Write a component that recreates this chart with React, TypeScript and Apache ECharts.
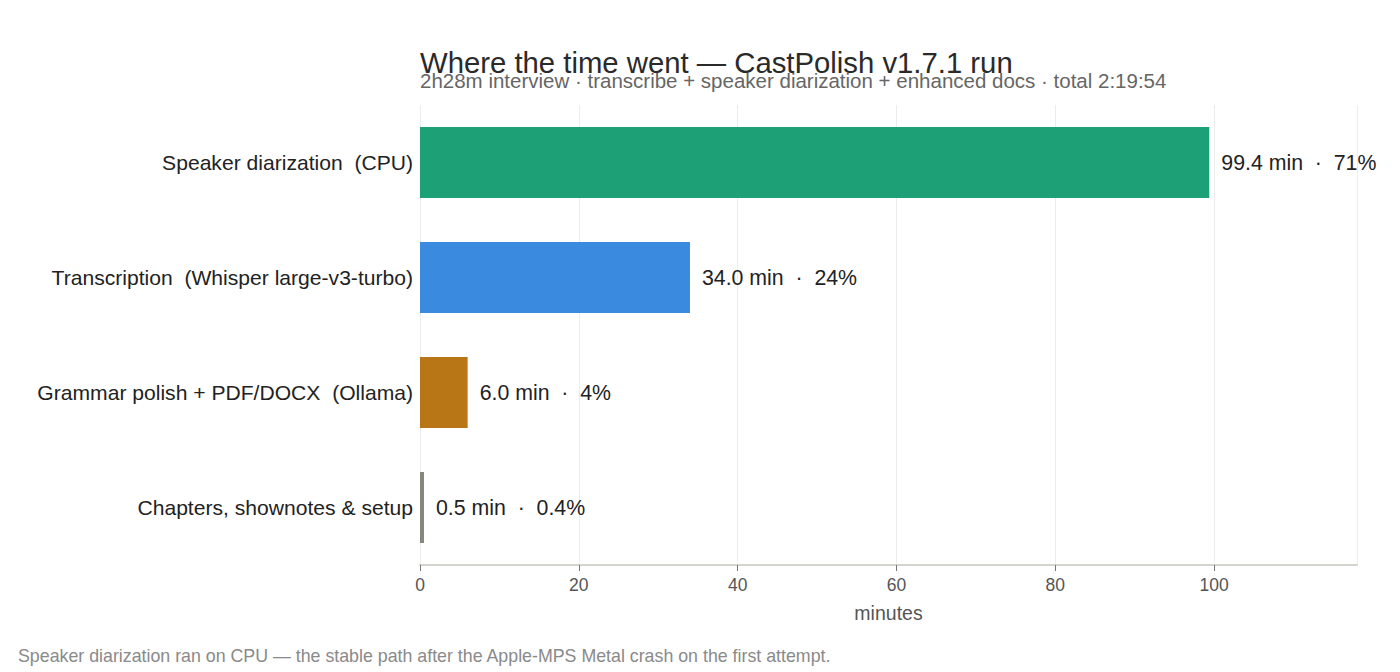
import React, { useEffect, useRef } from "react";
import * as echarts from "echarts";

const categories = [
  "Speaker diarization  (CPU)",
  "Transcription  (Whisper large-v3-turbo)",
  "Grammar polish + PDF/DOCX  (Ollama)",
  "Chapters, shownotes & setup",
];
const minutesValues = [99.4, 34.0, 6.0, 0.5];
const shareLabels = ["71%", "24%", "4%", "0.4%"];
const barColors = ["#1ea076", "#3a8bdf", "#b97617", "#86867e"];
const xTicks = [0, 20, 40, 60, 80, 100];

const TITLE = "Where the time went — CastPolish v1.7.1 run";
const SUBTITLE =
  "2h28m interview · transcribe + speaker diarization + enhanced docs · total 2:19:54";
const FOOTNOTE =
  "Speaker diarization ran on CPU — the stable path after the Apple-MPS Metal crash on the first attempt.";

const SANS = "'Liberation Sans', Arial, Helvetica, sans-serif";

export default function App() {
  const ref = useRef<HTMLDivElement>(null);
  useEffect(() => {
    if (!ref.current) return;
    const chart = echarts.init(ref.current, undefined, { renderer: "svg" });
    chart.setOption({
      animation: false,
      backgroundColor: "#ffffff",
      title: [
        {
          text: TITLE,
          left: 415,
          top: 43,
          padding: 5,
          textStyle: { fontFamily: SANS, fontSize: 29.3, fontWeight: "normal", color: "#2a2a2a" },
        },
        {
          text: SUBTITLE,
          left: 415,
          top: 65,
          padding: 5,
          textStyle: { fontFamily: SANS, fontSize: 20.5, fontWeight: "normal", color: "#666666" },
        },
      ],
      graphic: [
        {
          type: "text",
          left: 18,
          top: 647,
          style: { text: FOOTNOTE, font: `17.8px ${SANS}`, fill: "#8a8a8a" },
        },
      ],
      grid: { left: 420, right: 43, top: 105, bottom: 107, containLabel: false },
      xAxis: {
        type: "value",
        min: 0,
        max: 118,
        interval: 20,
        name: "minutes",
        nameLocation: "middle",
        nameGap: 38,
        nameTextStyle: { fontFamily: SANS, fontSize: 19.5, color: "#555555" },
        axisLine: { show: true, lineStyle: { color: "#d4d4ce", width: 2 } },
        axisTick: { show: true, length: 6, lineStyle: { color: "#777777" } },
        axisLabel: {
          fontFamily: SANS,
          fontSize: 17.5,
          color: "#555555",
          margin: 11,
          showMaxLabel: false,
          formatter: (v: number) => (xTicks.includes(v) ? String(v) : ""),
        },
        splitLine: { show: true, lineStyle: { color: "#ecece8", width: 1 } },
      },
      yAxis: {
        type: "category",
        inverse: true,
        data: categories,
        axisLine: { show: false },
        axisTick: { show: false },
        axisLabel: { fontFamily: SANS, fontSize: 21.1, color: "#222222", margin: 7 },
      },
      series: [
        {
          type: "bar",
          barWidth: 71,
          data: minutesValues.map((v, i) => ({ value: v, itemStyle: { color: barColors[i] } })),
          label: {
            show: true,
            position: "right",
            distance: 12,
            fontFamily: SANS,
            fontSize: 21.3,
            color: "#222222",
            formatter: (p: any) => `${p.value.toFixed(1)} min  ·  ${shareLabels[p.dataIndex]}`,
          },
        },
      ],
    });
    return () => chart.dispose();
  }, []);
  return (
    <div
      ref={ref}
      style={{ position: "absolute", left: 0, top: 0, width: 1400, height: 672 }}
    />
  );
}
